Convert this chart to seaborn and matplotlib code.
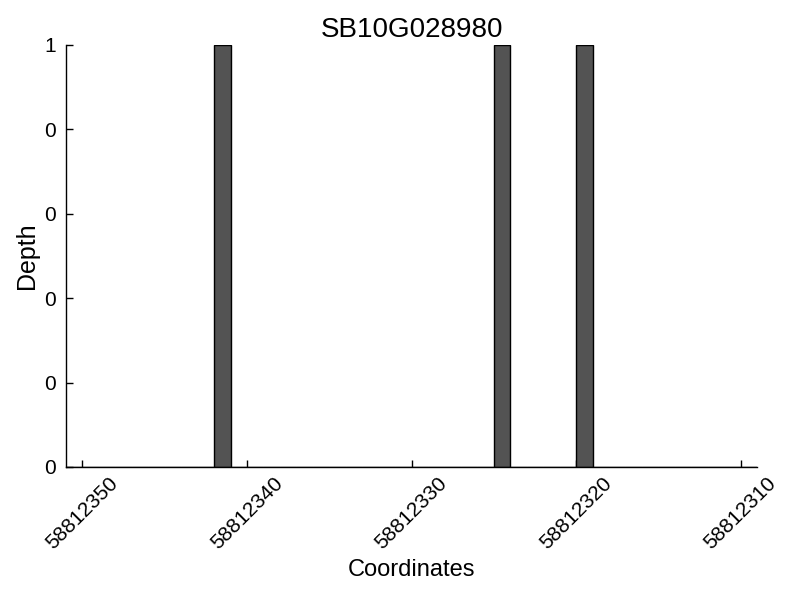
import numpy as np
import pandas as pd
import seaborn as sns
import matplotlib
matplotlib.use('Agg')
import matplotlib.pyplot as plt

# Coverage of the gene region, one position per base
gene_name = 'SB10G028980'
positions = [58812341, 58812324, 58812319]
depths = [1, 1, 1]
tick_positions = [58812350, 58812340, 58812330, 58812320, 58812310]
region_start = 58812309
region_end = 58812351

df = pd.DataFrame({'Coordinates': positions, 'Depth': depths})

sns.set_style('ticks')
plt.rcParams['font.family'] = ['Liberation Sans', 'DejaVu Sans']
plt.rcParams['text.color'] = 'black'
plt.rcParams['axes.labelcolor'] = 'black'

fig = plt.figure(figsize=(8, 6), dpi=100)
ax = fig.add_axes([0.0825, 0.2217, 0.8638, 0.7033])

sns.histplot(data=df, x='Coordinates', weights='Depth',
             binwidth=1, binrange=(region_start, region_end),
             color='#535353', edgecolor='black', linewidth=1,
             alpha=1, ax=ax)

ax.set_xlim(region_end, region_start)
ax.set_ylim(0, 1)
ax.set_xticks(tick_positions)
ax.set_xticklabels([str(t) for t in tick_positions], rotation=45,
                   ha='center', va='top', rotation_mode='default')
ax.set_yticks(np.linspace(0, 1, 6))
ax.yaxis.set_major_formatter(matplotlib.ticker.FormatStrFormatter('%d'))
ax.tick_params(direction='in', length=5, width=1, labelsize=15,
               colors='black', labelcolor='black')
ax.tick_params(axis='y', pad=7)
ax.tick_params(axis='x', pad=5)
sns.despine(ax=ax)
for s in ['left', 'bottom']:
    ax.spines[s].set_color('black')
    ax.spines[s].set_linewidth(1)

ax.set_title(gene_name, fontsize=20, color='black')
ax.set_xlabel('Coordinates', fontsize=17, labelpad=4)
ax.set_ylabel('Depth', fontsize=18, labelpad=4)

fig.savefig('out.png', dpi=100)
